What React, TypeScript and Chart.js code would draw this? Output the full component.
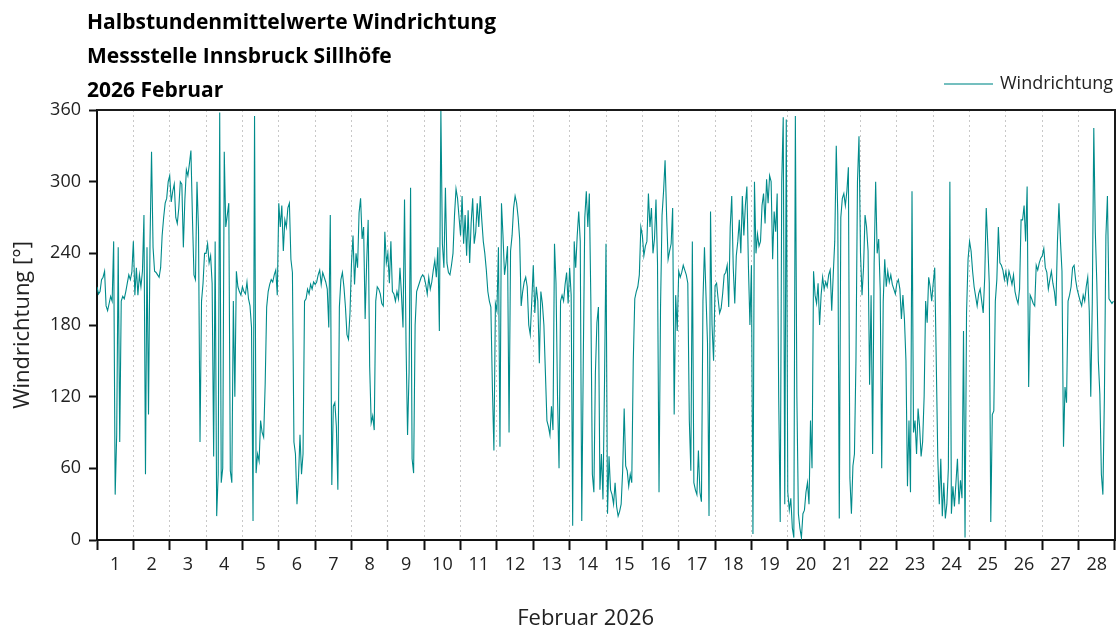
import { useEffect, useRef } from "react";
import { Chart, registerables } from "chart.js";

Chart.register(...registerables);

const TITLE_LINES = [
  "Halbstundenmittelwerte Windrichtung",
  "Messstelle Innsbruck Sillhöfe",
  "2026 Februar",
];
const SERIES_LABEL = "Windrichtung";
const Y_TITLE = "Windrichtung [°]";
const X_TITLE = "Februar 2026";
const DAY_LABELS = [
  "1", "2", "3", "4", "5", "6", "7", "8", "9", "10", "11", "12", "13", "14",
  "15", "16", "17", "18", "19", "20", "21", "22", "23", "24", "25", "26", "27", "28",
];
const Y_TICKS = [0, 60, 120, 180, 240, 300, 360];
const SAMPLES_PER_DAY = 24;

// hourly wind direction readings [°], one row per day
const week1 = [
  212, 206, 208, 218, 220, 225, 196, 192, 198, 204, 200, 250, 38, 88, 245, 82, 200, 204, 202, 208, 215, 222, 218, 224,
  250, 205, 228, 205, 222, 212, 225, 272, 55, 245, 105, 250, 325, 245, 225, 224, 222, 220, 228, 255, 270, 282, 286, 300,
  305, 283, 292, 298, 270, 265, 278, 300, 298, 245, 285, 310, 305, 315, 326, 270, 222, 218, 300, 260, 82, 200, 215, 240,
  240, 248, 232, 238, 215, 70, 250, 20, 55, 358, 48, 60, 325, 262, 272, 282, 58, 48, 200, 120, 225, 212, 208, 205,
  212, 208, 206, 216, 202, 196, 178, 16, 355, 56, 72, 66, 100, 90, 86, 130, 195, 208, 214, 218, 216, 222, 226, 205,
  282, 262, 280, 242, 268, 262, 278, 282, 235, 224, 82, 72, 30, 52, 88, 55, 72, 200, 202, 210, 206, 214, 210, 216,
  214, 216, 222, 226, 214, 224, 220, 216, 210, 178, 272, 46, 112, 115, 95, 42, 195, 218, 224, 212, 195, 172, 168, 190,
];
const week2 = [
  232, 255, 214, 240, 228, 274, 286, 252, 262, 185, 232, 268, 145, 98, 104, 92, 200, 212, 210, 206, 198, 196, 258, 232,
  240, 215, 250, 208, 206, 200, 208, 202, 228, 205, 178, 285, 165, 88, 140, 295, 68, 56, 180, 208, 212, 216, 220, 222,
  220, 214, 206, 220, 210, 216, 226, 234, 220, 245, 175, 360, 248, 228, 295, 232, 224, 222, 230, 240, 272, 294, 286, 270,
  255, 288, 248, 272, 238, 276, 232, 266, 286, 248, 258, 282, 262, 288, 268, 250, 240, 226, 208, 200, 195, 128, 75, 198,
  192, 245, 78, 282, 255, 222, 232, 246, 90, 242, 255, 278, 288, 282, 270, 252, 196, 208, 216, 220, 212, 180, 172, 200,
  230, 190, 212, 200, 148, 208, 198, 180, 140, 100, 95, 88, 112, 92, 248, 215, 120, 60, 200, 205, 200, 214, 224, 198,
  228, 205, 12, 250, 228, 255, 275, 250, 16, 150, 270, 292, 262, 290, 200, 55, 40, 140, 182, 195, 42, 72, 34, 130,
];
const week3 = [
  248, 22, 70, 42, 38, 30, 48, 28, 20, 24, 30, 58, 110, 62, 58, 45, 55, 48, 150, 202, 208, 212, 222, 262,
  255, 238, 246, 250, 290, 262, 278, 240, 252, 285, 232, 40, 195, 272, 292, 318, 272, 235, 242, 248, 278, 105, 205, 175,
  225, 220, 224, 230, 226, 222, 215, 100, 58, 250, 48, 42, 38, 75, 40, 32, 200, 245, 205, 165, 20, 275, 180, 150,
  213, 215, 202, 190, 194, 206, 222, 224, 230, 195, 262, 288, 228, 198, 238, 250, 268, 240, 288, 255, 280, 296, 230, 180,
  230, 5, 300, 240, 256, 246, 250, 280, 290, 265, 302, 282, 305, 300, 235, 275, 258, 290, 120, 15, 300, 354, 30, 352,
  40, 25, 35, 10, 2, 355, 120, 22, 10, 2, 22, 25, 40, 48, 30, 100, 60, 225, 205, 198, 215, 180, 205, 220,
  210, 216, 212, 222, 226, 192, 222, 250, 330, 272, 18, 270, 286, 290, 280, 292, 312, 52, 22, 62, 72, 150, 300, 338,
];
const week4 = [
  240, 205, 228, 272, 262, 242, 130, 205, 72, 232, 300, 240, 252, 210, 60, 200, 235, 212, 225, 216, 222, 214, 210, 206,
  215, 218, 210, 185, 205, 185, 150, 45, 100, 40, 292, 90, 100, 72, 110, 95, 70, 82, 120, 200, 182, 220, 212, 200,
  215, 228, 150, 70, 30, 68, 20, 48, 18, 30, 60, 300, 22, 45, 28, 48, 68, 30, 50, 35, 175, 2, 190, 235,
  250, 242, 225, 212, 204, 196, 206, 210, 200, 190, 220, 278, 248, 215, 15, 105, 108, 200, 218, 262, 232, 230, 226, 218,
  225, 215, 225, 220, 214, 222, 208, 202, 198, 210, 268, 268, 280, 250, 296, 128, 205, 202, 198, 196, 230, 226, 232, 236,
  238, 244, 228, 224, 210, 218, 225, 215, 208, 196, 250, 282, 250, 225, 78, 128, 115, 200, 205, 212, 228, 230, 218, 210,
  205, 200, 196, 205, 200, 212, 220, 192, 120, 198, 345, 258, 215, 150, 122, 55, 38, 120, 255, 288, 202, 200, 198, 200,
];

const windDirection = [...week1, ...week2, ...week3, ...week4];

const LINE_COLOR = "rgb(0, 139, 139)";
const LEGEND_LINE_COLOR = "rgb(70, 170, 170)";
const FONT = "'Open Sans', 'DejaVu Sans', sans-serif";

const decorPlugin = {
  id: "decor",
  afterDraw(chart: any) {
    const { ctx, chartArea: a } = chart;
    ctx.save();
    // frame top & right
    ctx.strokeStyle = "#1a1a1a";
    ctx.lineWidth = 2;
    ctx.beginPath();
    ctx.moveTo(a.left, a.top);
    ctx.lineTo(a.right, a.top);
    ctx.lineTo(a.right, a.bottom);
    ctx.stroke();
    // titles
    ctx.fillStyle = "#000";
    ctx.textAlign = "left";
    ctx.textBaseline = "alphabetic";
    ctx.font = `bold 21px ${FONT}`;
    TITLE_LINES.forEach((t, i) => ctx.fillText(t, a.left - 10, 29 + i * 34));
    // x axis title
    ctx.fillStyle = "#222";
    ctx.font = `22px ${FONT}`;
    ctx.textAlign = "center";
    ctx.textBaseline = "middle";
    ctx.fillText(X_TITLE, a.left + (a.right - a.left) * 0.48, chart.height - 16);
    // legend
    ctx.strokeStyle = LEGEND_LINE_COLOR;
    ctx.lineWidth = 1.5;
    ctx.beginPath();
    ctx.moveTo(a.right - 171, 84);
    ctx.lineTo(a.right - 122, 84);
    ctx.stroke();
    ctx.fillStyle = "#222";
    ctx.font = `18px ${FONT}`;
    ctx.textAlign = "left";
    ctx.textBaseline = "middle";
    ctx.fillText(SERIES_LABEL, a.right - 115, 84);
    ctx.restore();
  },
};

export default function App() {
  const canvasRef = useRef<HTMLCanvasElement | null>(null);

  useEffect(() => {
    const canvas = canvasRef.current;
    if (!canvas) return;
    const points = windDirection.map((v, i) => ({ x: i / SAMPLES_PER_DAY, y: v }));
    const chart = new Chart(canvas, {
      type: "line",
      data: {
        datasets: [
          {
            label: SERIES_LABEL,
            data: points,
            borderColor: LINE_COLOR,
            borderWidth: 1.1,
            pointRadius: 0,
            tension: 0,
            fill: false,
          },
        ],
      },
      options: {
        responsive: false,
        animation: false,
        layout: { padding: { top: 110, right: 5, left: 0, bottom: 0 } },
        plugins: {
          legend: { display: false },
          tooltip: { enabled: false },
          title: { display: false },
        },
        scales: {
          x: {
            type: "linear",
            min: 0,
            max: DAY_LABELS.length,
            afterBuildTicks: (s: any) => {
              s.ticks = DAY_LABELS.map((_, i) => ({ value: i + 0.5 }));
            },
            afterFit: (s: any) => {
              s.height = 95;
            },
            ticks: {
              autoSkip: false,
              maxRotation: 0,
              padding: 4,
              color: "#222",
              font: { family: FONT, size: 18 },
              callback: (v: any) => DAY_LABELS[Math.floor(Number(v))],
            },
            grid: {
              offset: true,
              color: "#c8c8c8",
              lineWidth: 1,
              tickLength: 10,
              tickColor: "#111",
              tickWidth: 2,
            },
            border: { display: true, color: "#111", width: 2, dash: [2, 3] },
            title: { display: false, text: X_TITLE },
          },
          y: {
            min: 0,
            max: 360,
            afterBuildTicks: (s: any) => {
              s.ticks = Y_TICKS.map((v) => ({ value: v }));
            },
            afterFit: (s: any) => {
              s.width = 97;
            },
            ticks: {
              padding: 8,
              color: "#222",
              font: { family: FONT, size: 18 },
            },
            grid: {
              drawOnChartArea: false,
              tickLength: 8,
              tickColor: "#111",
              tickWidth: 2,
            },
            border: { display: true, color: "#111", width: 2 },
            title: {
              display: true,
              text: Y_TITLE,
              color: "#222",
              font: { family: FONT, size: 22 },
              padding: { top: 10, bottom: 0 },
            },
          },
        },
      } as any,
      plugins: [decorPlugin],
    });
    return () => chart.destroy();
  }, []);

  return (
    <div style={{ position: "absolute", left: 0, top: 0, width: 1120, height: 635, background: "#fff" }}>
      <canvas ref={canvasRef} width={1120} height={635} style={{ display: "block" }} />
    </div>
  );
}
